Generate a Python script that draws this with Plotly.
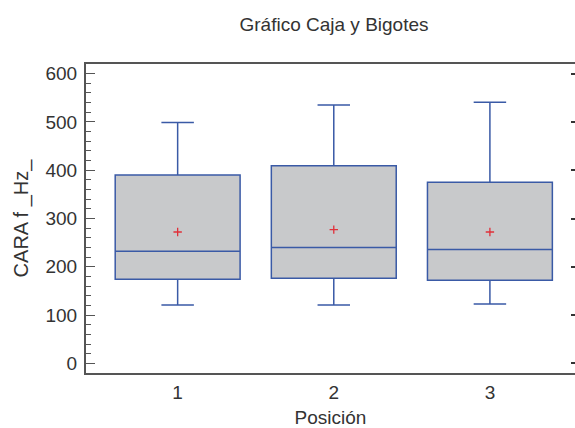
import plotly.graph_objects as go

# Data
positions = [1, 2, 3]
lower_whisker = [121, 121, 123]
q1 = [174, 176, 172]
median = [232, 240, 236]
q3 = [390, 409, 375]
upper_whisker = [499, 535, 541]
means = [272, 277, 272]

title_text = "Gráfico Caja y Bigotes"
x_title = "Posición"
y_title = "CARA f _Hz_"

font_family = "Liberation Sans, Arial, sans-serif"
text_color = "#333333"
axis_color = "#555555"
box_line = "#3a5aa6"
box_fill = "#c8c9cb"
fs = 19

fig = go.Figure()

for i, p in enumerate(positions):
    fig.add_trace(go.Box(
        x=[p],
        q1=[q1[i]],
        median=[median[i]],
        q3=[q3[i]],
        lowerfence=[lower_whisker[i]],
        upperfence=[upper_whisker[i]],
        width=0.8,
        whiskerwidth=0.26,
        fillcolor=box_fill,
        line=dict(color=box_line, width=1.5),
        showlegend=False,
        hoverinfo="skip",
    ))

fig.add_trace(go.Scatter(
    x=positions,
    y=means,
    mode="markers",
    marker=dict(symbol="cross-thin", size=6, line=dict(color="#e0303a", width=1.3)),
    showlegend=False,
    hoverinfo="skip",
))

# invisible trace for right axis ticks
fig.add_trace(go.Scatter(x=[positions[0]], y=[means[0]], yaxis="y2", mode="markers",
                         marker=dict(opacity=0), showlegend=False, hoverinfo="skip"))

fig.update_layout(
    width=575,
    height=428,
    margin=dict(l=86, r=0, t=64, b=55, autoexpand=False),
    paper_bgcolor="white",
    plot_bgcolor="white",
    font=dict(family=font_family, size=fs, color=text_color),
    title=dict(text=title_text, x=334 / 575, xanchor="center", y=1 - 24 / 428, yanchor="middle",
               font=dict(size=fs, color=text_color)),
    xaxis=dict(
        range=[0.413, 3.545],
        tickmode="array",
        tickvals=positions,
        ticktext=[str(p) for p in positions],
        ticks="",
        showgrid=False,
        zeroline=False,
        showline=True,
        linecolor=axis_color,
        linewidth=2,
        mirror=True,
        automargin=False,
        ticklabelstandoff=1,
        tickfont=dict(size=fs),
        title=dict(text=x_title, font=dict(size=fs), standoff=10),
    ),
    yaxis=dict(
        range=[-20, 620],
        tickmode="linear",
        tick0=0,
        dtick=100,
        ticks="inside",
        ticklen=9,
        tickwidth=1,
        tickcolor=axis_color,
        minor=dict(ticks="inside", dtick=20, ticklen=5, tickwidth=1, tickcolor=axis_color, showgrid=False),
        showgrid=False,
        zeroline=False,
        showline=True,
        linecolor=axis_color,
        linewidth=2,
        automargin=False,
        tickfont=dict(size=fs),
        ticklabelstandoff=3,
        title=dict(text=y_title, font=dict(size=20), standoff=11),
    ),
    yaxis2=dict(
        range=[-20, 620],
        overlaying="y",
        side="right",
        tickmode="linear",
        tick0=0,
        dtick=100,
        ticks="inside",
        ticklen=4,
        tickwidth=2,
        tickcolor="#333333",
        showticklabels=False,
        showgrid=False,
        zeroline=False,
        showline=False,
        automargin=False,
    ),
)

fig.write_html("out.html",
               config={"displayModeBar": False},
               post_script="document.body.style.margin='0';document.body.style.overflow='hidden';")
